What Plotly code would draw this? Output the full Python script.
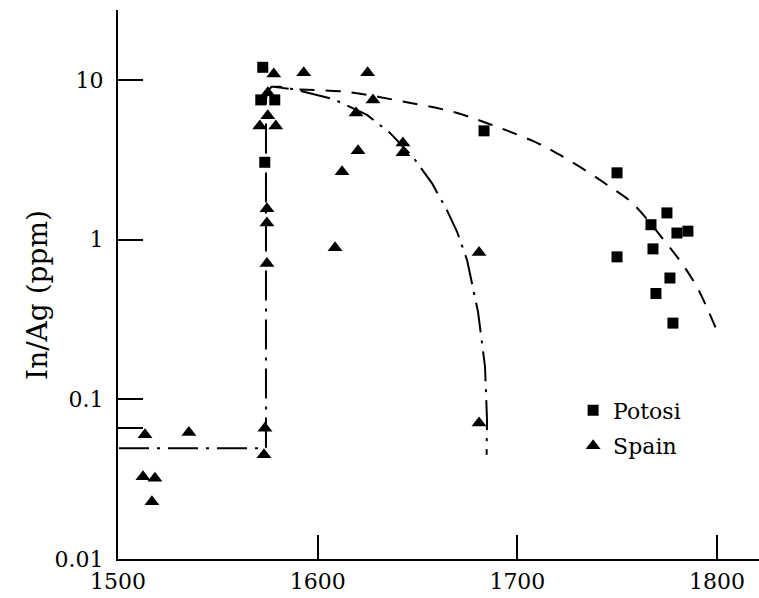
import plotly.graph_objects as go

# ---------------- data ----------------
potosi_year = [1572.5, 1571.5, 1578.5, 1573.5, 1683.3, 1749.9, 1749.9, 1766.9,
               1767.9, 1774.9, 1779.9, 1785.4, 1769.4, 1776.4, 1777.9]
potosi_val = [12.0, 7.5, 7.5, 3.05, 4.8, 2.62, 0.78, 1.24,
              0.875, 1.47, 1.10, 1.13, 0.46, 0.575, 0.30]

spain_year = [1513.5, 1535.5, 1512.5, 1518.5, 1517.0, 1573.6, 1573.1, 1574.6,
              1574.6, 1574.6, 1575.0, 1571.0, 1579.0, 1575.0, 1578.0, 1593.0,
              1625.0, 1627.7, 1619.2, 1620.2, 1642.7, 1642.7, 1612.2, 1608.7,
              1680.8, 1680.8]
spain_val = [0.060, 0.062, 0.0327, 0.032, 0.0228, 0.066, 0.045, 0.71,
             1.27, 1.56, 5.96, 5.15, 5.15, 8.3, 10.9, 11.1,
             11.1, 7.5, 6.2, 3.6, 4.03, 3.5, 2.66, 0.89,
             0.83, 0.071]

# fitted trend curves
spain_fit_year = [1500.5, 1571.5, 1574.1, 1574.1, 1575.0, 1577.0, 1581.0, 1587.1,
                  1607.7, 1624.7, 1636.2, 1647.7, 1657.2, 1664.7, 1669.8, 1674.8,
                  1680.3, 1683.8, 1684.8, 1684.6]
spain_fit_val = [0.0493, 0.0493, 0.05, 7.6, 8.6, 9.05, 9.05, 8.79,
                 7.6, 6.04, 4.66, 3.29, 2.26, 1.53, 1.12, 0.746,
                 0.352, 0.16, 0.074, 0.045]

potosi_fit_year = [1578.0, 1586.1, 1614.7, 1641.2, 1667.8, 1687.3, 1708.8, 1721.3,
                   1735.4, 1746.4, 1757.4, 1772.9, 1782.9, 1789.9, 1795.4, 1800.4]
potosi_fit_val = [9.05, 8.79, 8.41, 7.39, 6.31, 5.22, 4.09, 3.39,
                  2.65, 2.14, 1.70, 1.01, 0.695, 0.506, 0.363, 0.26]

x_ticks = [1500, 1600, 1700, 1800]
x_ticktext = ["1500", "1600", "1700", "1800"]
y_ticks = [0.01, 0.066, 0.1, 1, 10]
y_ticktext = ["0.01", "", "0.1", "1", "10"]
y_title = "In/Ag (ppm)"

FONT = "DejaVu Serif, Liberation Serif, serif"

fig = go.Figure()

fig.add_trace(go.Scatter(
    x=spain_fit_year, y=spain_fit_val, mode="lines",
    line=dict(color="black", width=2, dash="30px,8px,3px,8px"),
    showlegend=False, hoverinfo="skip"))
fig.add_trace(go.Scatter(
    x=potosi_fit_year, y=potosi_fit_val, mode="lines",
    line=dict(color="black", width=2, dash="15px,11px", shape="spline"),
    showlegend=False, hoverinfo="skip"))

fig.add_trace(go.Scatter(
    x=potosi_year, y=potosi_val, mode="markers", name="Potosi",
    legendgroup="a",
    marker=dict(symbol="square", size=11, color="black")))
fig.add_trace(go.Scatter(
    x=spain_year, y=spain_val, mode="markers", name="Spain",
    legendgroup="b",
    marker=dict(symbol="triangle-up", size=13, color="black")))

fig.update_layout(
    width=759, height=598,
    margin=dict(l=118, r=0, t=10, b=39),
    paper_bgcolor="white", plot_bgcolor="white",
    font=dict(family=FONT, size=22, color="black"),
    showlegend=True,
    legend=dict(x=0.71, y=0.309, xanchor="left", yanchor="top",
                bgcolor="rgba(0,0,0,0)", font=dict(size=22),
                tracegroupgap=4, traceorder="grouped"),
    annotations=[dict(text=y_title, xref="paper", yref="paper",
                      x=-0.1248, y=0.481, xanchor="center", yanchor="middle",
                      textangle=-90, showarrow=False,
                      font=dict(family=FONT, size=28, color="black"))],
)
fig.update_xaxes(
    range=[1500, 1821], showgrid=False, zeroline=False,
    showline=True, linecolor="black", linewidth=2,
    ticks="inside", ticklen=24, tickwidth=2, tickcolor="black",
    tickvals=x_ticks, ticktext=x_ticktext, ticklabelstandoff=2)
fig.update_yaxes(
    type="log", range=[-2, 1.438], showgrid=False, zeroline=False,
    showline=True, linecolor="black", linewidth=2,
    ticks="inside", ticklen=25, tickwidth=2, tickcolor="black",
    tickvals=y_ticks, ticktext=y_ticktext, ticklabelstandoff=8)

fig.write_html("out.html")
